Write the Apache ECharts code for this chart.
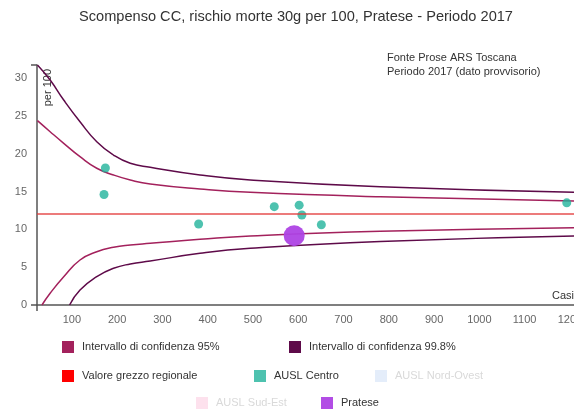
<!DOCTYPE html>
<html>
<head>
<meta charset="utf-8">
<script src="https://cdn.jsdelivr.net/npm/echarts@6/dist/echarts.min.js"></script>
<style>
  html, body { margin: 0; padding: 0; background: #fff; }
  #chart { width: 574px; height: 410px; }
</style>
</head>
<body>
<div id="chart"></div>
<script>
// funnel limits: cases -> rate per 100
const casesUpper998 = [24, 52, 82, 118, 155, 192, 229, 273, 383, 494, 781, 1209];
const rateUpper998  = [31.72, 29.73, 27.09, 24.22, 21.58, 19.82, 18.73, 18.2, 17.18, 16.52, 15.63, 14.89];

const casesUpper95 = [24, 52, 82, 118, 155, 192, 229, 273, 383, 494, 781, 1209];
const rateUpper95  = [24.36, 22.9, 21.37, 19.6, 18.07, 17.18, 16.52, 15.99, 15.33, 14.89, 14.31, 13.74];

const casesLower95 = [34, 52, 82, 118, 155, 192, 229, 273, 383, 494, 781, 1209];
const rateLower95  = [0, 1.55, 3.74, 5.95, 7.04, 7.63, 7.93, 8.15, 8.68, 9.12, 9.74, 10.22];

const casesLower998 = [95, 118, 155, 192, 229, 273, 383, 494, 781, 1209];
const rateLower998  = [0, 1.98, 3.74, 4.85, 5.42, 5.81, 6.83, 7.49, 8.4, 9.12];

const regionalRate = 12.12;

// AUSL Centro zones
const centroCases = [171, 174, 380, 547, 602, 608, 651, 1193];
const centroRates = [14.6, 18.1, 10.7, 13.0, 13.2, 11.9, 10.6, 13.5];

// Pratese
const prateseCases = [591];
const prateseRates = [9.16];

// axis range and labels
const casesMin = 23;
const casesMax = 1209;
const rateMax = 31.72;
const xTickLabels = [100, 200, 300, 400, 500, 600, 700, 800, 900, 1000, 1100, 1200];
const yTickLabels = [0, 5, 10, 15, 20, 25, 30];

const zip = (xs, ys) => xs.map((x, i) => [x, ys[i]]);

const C95 = "#a3215c";
const C998 = "#5e0a49";
const CRED = "#ff0000";
const CCENTRO = "#22b39b";
const CNORD = "#dde9f9";
const CSUD = "#fcd9e9";
const CPRATO = "#ae43e4";
const FONT = "'Liberation Sans', Arial, sans-serif";

const chart = echarts.init(document.getElementById("chart"));

const legendBase = {
    icon: "rect",
    itemWidth: 12,
    itemHeight: 12,
    itemGap: 6,
    padding: 0,
    selectedMode: false,
    textStyle: { color: "#333", fontSize: 11, fontFamily: FONT, padding: [0, 0, 0, 3] }
};
const legendAt = (name, left, top, faded) => Object.assign({}, legendBase, {
    left: left,
    top: top,
    data: [faded ? { name: name, textStyle: { color: "#d9d9d9" } } : name]
});

const lineSeries = (name, color, pts) => ({
    name: name,
    type: "line",
    data: pts,
    smooth: 0.5,
    showSymbol: false,
    symbol: "none",
    silent: true,
    lineStyle: { color: color, width: 1.5 },
    itemStyle: { color: color },
    z: 2
});

const option = {
    animation: false,
    textStyle: { fontFamily: FONT },
    title: {
        text: "Scompenso CC, rischio morte 30g per 100, Pratese - Periodo 2017",
        left: 79,
        top: 9,
        padding: 0,
        textStyle: { color: "#333", fontSize: 14.6, fontWeight: "normal" }
    },
    graphic: [
        {
            type: "text",
            left: 387,
            top: 51,
            style: {
                text: "Fonte Prose ARS Toscana\nPeriodo 2017 (dato provvisorio)",
                fill: "#333",
                font: "11px " + FONT,
                lineHeight: 14
            }
        },
        {
            type: "text",
            right: 0,
            top: 290,
            style: { text: "Casi", fill: "#333", font: "11px " + FONT }
        },
        {
            type: "text",
            left: 42,
            top: 69,
            rotation: Math.PI / 2,
            style: { text: "per 100", fill: "#333", font: "11px " + FONT }
        }
    ],
    legend: [
        legendAt("Intervallo di confidenza 95%", 62, 341),
        legendAt("Intervallo di confidenza 99.8%", 289, 341),
        legendAt("Valore grezzo regionale", 62, 370),
        legendAt("AUSL Centro", 254, 370),
        legendAt("AUSL Nord-Ovest", 375, 370, true),
        legendAt("AUSL Sud-Est", 196, 397, true),
        legendAt("Pratese", 321, 397)
    ],
    grid: { left: 37, right: 0, top: 65, bottom: 105, outerBoundsMode: "none", containLabel: false },
    xAxis: {
        type: "value",
        min: casesMin,
        max: casesMax,
        splitLine: { show: false },
        axisLine: { lineStyle: { color: "#555", width: 1.5 } },
        axisTick: { show: true, length: 6, customValues: [casesMin], lineStyle: { color: "#555", width: 1.5 } },
        axisLabel: { customValues: xTickLabels, formatter: v => String(v), color: "#666", fontSize: 11, margin: 9 }
    },
    yAxis: {
        type: "value",
        min: 0,
        max: rateMax,
        splitLine: { show: false },
        axisLine: { show: true, lineStyle: { color: "#555", width: 1.5 } },
        axisTick: { show: true, length: 6, customValues: [0, rateMax], lineStyle: { color: "#555", width: 1.5 } },
        axisLabel: { customValues: yTickLabels, formatter: v => String(v), color: "#666", fontSize: 11, margin: 10 }
    },
    series: [
        lineSeries("Intervallo di confidenza 99.8%", C998, zip(casesUpper998, rateUpper998)),
        lineSeries("Intervallo di confidenza 99.8%", C998, zip(casesLower998, rateLower998)),
        lineSeries("Intervallo di confidenza 95%", C95, zip(casesUpper95, rateUpper95)),
        lineSeries("Intervallo di confidenza 95%", C95, zip(casesLower95, rateLower95)),
        {
            name: "Valore grezzo regionale",
            type: "line",
            data: [],
            itemStyle: { color: CRED },
            markLine: {
                silent: true,
                symbol: "none",
                label: { show: false },
                lineStyle: { color: "#e23c3c", width: 1.5, type: "solid", opacity: 0.9 },
                data: [{ yAxis: regionalRate }]
            }
        },
        {
            name: "AUSL Centro",
            type: "scatter",
            data: zip(centroCases, centroRates),
            symbolSize: 9,
            itemStyle: { color: CCENTRO, opacity: 0.8 },
            z: 4
        },
        { name: "AUSL Nord-Ovest", type: "scatter", data: [], itemStyle: { color: CNORD } },
        { name: "AUSL Sud-Est", type: "scatter", data: [], itemStyle: { color: CSUD } },
        {
            name: "Pratese",
            type: "scatter",
            data: zip(prateseCases, prateseRates),
            symbolSize: 21,
            itemStyle: { color: CPRATO, opacity: 0.95 },
            z: 5
        }
    ]
};

chart.setOption(option);
window.addEventListener("resize", () => chart.resize());
</script>
</body>
</html>
